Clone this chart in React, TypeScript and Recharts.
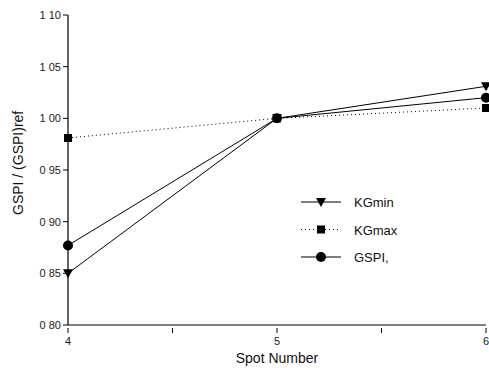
import React from 'react';
import { LineChart, Line, XAxis, YAxis } from 'recharts';

const spots = [4, 5, 6];
const kgMin = [0.85, 1.0, 1.031];
const kgMax = [0.981, 1.0, 1.01];
const gspi = [0.877, 1.0, 1.02];
const yTicks = [0.8, 0.85, 0.9, 0.95, 1.0, 1.05, 1.1];
const xTicks = [4, 4.5, 5, 5.5, 6];
const seriesNames = ['KGmin', 'KGmax', 'GSPI,'];

const data = spots.map((s, i) => ({ spot: s, kgMin: kgMin[i], kgMax: kgMax[i], gspi: gspi[i] }));

const FONT = 'Arial, "Liberation Sans", sans-serif';

const Tri = (props: any) => {
  const { cx, cy } = props;
  if (cx == null || cy == null) return null;
  return <path d={`M${cx - 5},${cy - 4} L${cx + 5},${cy - 4} L${cx},${cy + 5} Z`} fill="#000" />;
};
const Sq = (props: any) => {
  const { cx, cy } = props;
  if (cx == null || cy == null) return null;
  return <rect x={cx - 4} y={cy - 4} width={8} height={8} fill="#000" />;
};
const Circ = (props: any) => {
  const { cx, cy } = props;
  if (cx == null || cy == null) return null;
  return <circle cx={cx} cy={cy} r={5} fill="#000" />;
};

const XTick = (props: any) => {
  const { x, y, payload } = props;
  const v = payload.value;
  const isInt = Number.isInteger(v);
  return (
    <g>
      <line x1={x} x2={x} y1={y} y2={y - 5} stroke="#000" strokeWidth={1} />
      {isInt && (
        <text x={x} y={y + 12} textAnchor="middle" fontSize={11} fill="#222" fontFamily={FONT}>
          {String(v)}
        </text>
      )}
    </g>
  );
};

const fmtY = (v: number) => v.toFixed(2).replace('.', ' ');

const LegendBox = () => {
  const rows = [
    { name: seriesNames[0], dash: undefined, M: Tri },
    { name: seriesNames[1], dash: '1 3', M: Sq },
    { name: seriesNames[2], dash: undefined, M: Circ },
  ];
  return (
    <svg width={130} height={90} style={{ position: 'absolute', left: 296, top: 190 }}>
      {rows.map((r) => {
        const i = rows.indexOf(r);
        const y = 12 + i * 27.5;
        const M = r.M;
        return (
          <g key={r.name}>
            <line x1={5} x2={45} y1={y} y2={y} stroke="#000" strokeWidth={1} strokeDasharray={r.dash} />
            <M cx={25} cy={y} />
            <text x={58} y={y + 5} fontSize={13} fill="#111" fontFamily={FONT}>{r.name}</text>
          </g>
        );
      })}
    </svg>
  );
};

export default function App() {
  return (
    <div style={{ position: 'absolute', left: 0, top: 0, width: 489, height: 368, background: '#fff' }}>
      <LineChart width={489} height={368} data={data} margin={{ top: 15, right: 3, bottom: 13, left: 28 }}>
        <XAxis
          dataKey="spot"
          type="number"
          domain={[4, 6]}
          ticks={xTicks}
          interval={0}
          tick={<XTick />}
          tickLine={false}
          axisLine={{ stroke: '#000', strokeWidth: 1.2 }}
          height={30}
          label={{ value: 'Spot Number', position: 'insideBottom', offset: -8, fontSize: 14, fill: '#111', fontFamily: FONT }}
        />
        <YAxis
          type="number"
          domain={[0.8, 1.1]}
          ticks={yTicks}
          interval={0}
          tickFormatter={fmtY}
          width={40}
          tick={{ fontSize: 11, fill: '#222', fontFamily: FONT }}
          tickLine={{ stroke: '#000' }}
          tickSize={5}
          axisLine={{ stroke: '#000', strokeWidth: 1.2 }}
          label={{ value: 'GSPI / (GSPI)ref', angle: -90, position: 'insideLeft', offset: -10, dy: 45, fontSize: 14, fill: '#111', fontFamily: FONT }}
        />
        <Line dataKey="kgMin" stroke="#000" strokeWidth={1} dot={<Tri />} isAnimationActive={false} />
        <Line dataKey="kgMax" stroke="#000" strokeWidth={1} strokeDasharray="1 3" dot={<Sq />} isAnimationActive={false} />
        <Line dataKey="gspi" stroke="#000" strokeWidth={1} dot={<Circ />} isAnimationActive={false} />
      </LineChart>
      <LegendBox />
    </div>
  );
}
